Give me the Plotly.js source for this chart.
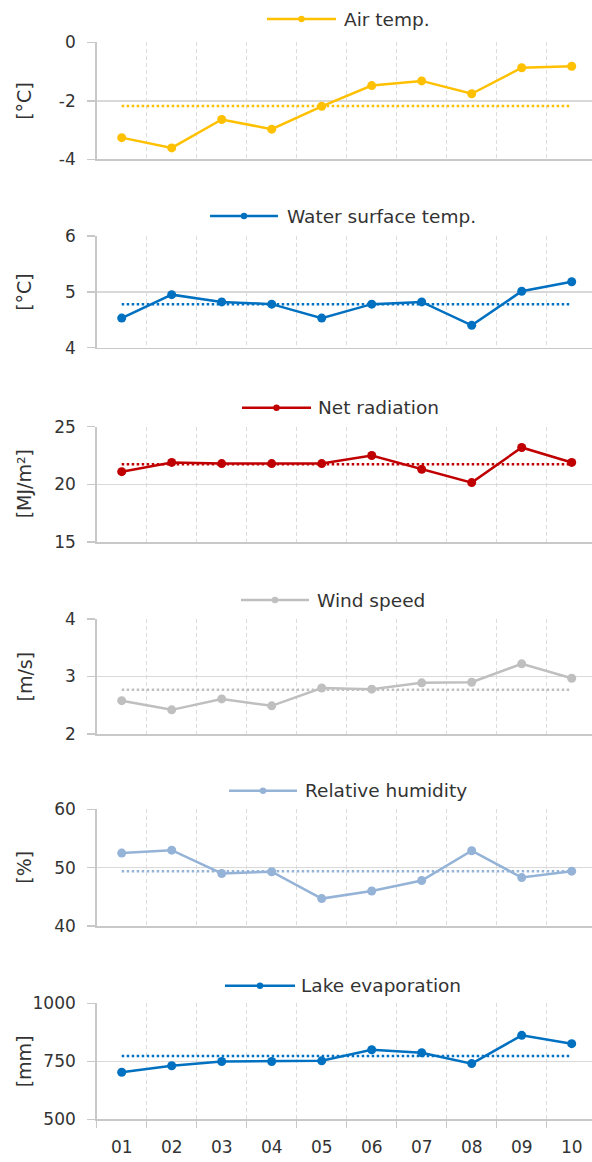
<!DOCTYPE html>
<html>
<head>
<meta charset="utf-8">
<script src="https://cdn.plot.ly/plotly-3.0.1.min.js"></script>
<style>
  html, body { margin: 0; padding: 0; background: #ffffff; }
  #chart { width: 592px; height: 1162px; }
</style>
</head>
<body>
<div id="chart"></div>
<script>
// Hydro-meteorological summary, periods 01–10
const periods = ["01", "02", "03", "04", "05", "06", "07", "08", "09", "10"];

const airTemp   = [-3.26, -3.61, -2.64, -2.97, -2.19, -1.48, -1.32, -1.76, -0.87, -0.82];
const waterTemp = [4.53, 4.95, 4.82, 4.78, 4.53, 4.78, 4.82, 4.40, 5.01, 5.18];
const netRad    = [21.1, 21.9, 21.8, 21.8, 21.8, 22.5, 21.3, 20.15, 23.2, 21.9];
const windSpeed = [2.58, 2.42, 2.61, 2.49, 2.80, 2.78, 2.89, 2.90, 3.22, 2.97];
const relHum    = [52.5, 53.0, 49.0, 49.3, 44.7, 46.0, 47.8, 52.9, 48.3, 49.4];
const lakeEvap  = [703, 731, 749, 749, 752, 800, 787, 740, 862, 826];

// Long-term averages (dotted reference lines)
const meanAirTemp   = -2.18;
const meanWaterTemp = 4.78;
const meanNetRad    = 21.75;
const meanWindSpeed = 2.77;
const meanRelHum    = 49.4;
const meanLakeEvap  = 773;

// Y tick values and labels per panel (plain hyphen for negatives)
const airTicks   = [-4, -2, 0];       const airTickText   = ["-4", "-2", "0"];
const waterTicks = [4, 5, 6];         const waterTickText = ["4", "5", "6"];
const radTicks   = [15, 20, 25];      const radTickText   = ["15", "20", "25"];
const windTicks  = [2, 3, 4];         const windTickText  = ["2", "3", "4"];
const humTicks   = [40, 50, 60];      const humTickText   = ["40", "50", "60"];
const evapTicks  = [500, 750, 1000];  const evapTickText  = ["500", "750", "1000"];

const seriesNames = ["Air temp.", "Water surface temp.", "Net radiation", "Wind speed", "Relative humidity", "Lake evaporation"];
const unitLabels  = ["[°C]", "[°C]", "[MJ/m²]", "[m/s]", "[%]", "[mm]"];

const W = 592, H = 1162;
const FONT = "DejaVu Sans, sans-serif";
const TEXT = "#333333";

const panels = [
  { y: airTemp,   mean: meanAirTemp,   color: "#FFC000", tv: airTicks,   tt: airTickText,   top: 42.3,  bot: 159.3,  leg: [267, 336, 342, 19] },
  { y: waterTemp, mean: meanWaterTemp, color: "#0070C0", tv: waterTicks, tt: waterTickText, top: 236,   bot: 347.7,  leg: [210, 278, 285, 216] },
  { y: netRad,    mean: meanNetRad,    color: "#C00000", tv: radTicks,   tt: radTickText,   top: 426.7, bot: 542,    leg: [242, 311, 316, 407.7] },
  { y: windSpeed, mean: meanWindSpeed, color: "#BFBFBF", tv: windTicks,  tt: windTickText,  top: 619,   bot: 734,    leg: [241, 309, 315, 600] },
  { y: relHum,    mean: meanRelHum,    color: "#95B3D7", tv: humTicks,   tt: humTickText,   top: 809.3, bot: 926,    leg: [229, 297, 303, 790.7] },
  { y: lakeEvap,  mean: meanLakeEvap,  color: "#0070C0", tv: evapTicks,  tt: evapTickText,  top: 1003.3, bot: 1119.3, leg: [225, 295, 299, 985.7] }
];

const px = v => v / W;
const py = v => 1 - v / H;

const plotLeft = 96.7;
const catWidth = 50;
const xRange = [-0.5, -0.5 + (W - plotLeft) / catWidth];

const traces = [];
const shapes = [];
const annotations = [];
const layout = {
  width: W, height: H,
  margin: { l: 0, r: 0, t: 0, b: 0 },
  paper_bgcolor: "#ffffff",
  plot_bgcolor: "#ffffff",
  showlegend: false,
  font: { family: FONT, size: 16, color: TEXT }
};

panels.forEach((p, i) => {
  const n = i + 1;
  const xa = "x" + (i === 0 ? "" : n);
  const ya = "y" + (i === 0 ? "" : n);
  const last = i === panels.length - 1;

  // dotted average line
  traces.push({
    type: "scatter", mode: "lines",
    x: periods, y: periods.map(() => p.mean),
    xaxis: xa, yaxis: ya,
    line: { color: p.color, width: 2.5, dash: "2.5px,2.5px" },
    hoverinfo: "skip"
  });
  // series
  traces.push({
    type: "scatter", mode: "lines+markers",
    name: seriesNames[i],
    x: periods, y: p.y,
    xaxis: xa, yaxis: ya,
    line: { color: p.color, width: 2.5 },
    marker: { color: p.color, size: 9 }
  });

  layout["xaxis" + (i === 0 ? "" : n)] = {
    domain: [px(plotLeft), 1],
    anchor: ya,
    type: "category",
    categoryarray: periods,
    range: xRange,
    tickson: "boundaries",
    showgrid: true,
    gridcolor: "#DCDCDC",
    gridwidth: 1,
    griddash: "4px,3px",
    showline: true,
    linecolor: "#C8C8C8",
    linewidth: 1.5,
    zeroline: false,
    ticks: last ? "outside" : "",
    ticklen: 7,
    tickcolor: "#C8C8C8",
    tickwidth: 1.5,
    showticklabels: last,
    ticklabelstandoff: 12,
    tickfont: { family: FONT, size: 17, color: TEXT },
    fixedrange: true
  };
  layout["yaxis" + (i === 0 ? "" : n)] = {
    domain: [py(p.bot), py(p.top)],
    anchor: xa,
    range: [p.tv[0], p.tv[p.tv.length - 1]],
    tickmode: "array",
    tickvals: p.tv,
    ticktext: p.tt,
    showgrid: true,
    gridcolor: "#D9D9D9",
    gridwidth: 1.5,
    showline: true,
    linecolor: "#C8C8C8",
    linewidth: 1.5,
    zeroline: false,
    ticks: "outside",
    ticklen: 8,
    tickcolor: "#C8C8C8",
    tickwidth: 1.5,
    ticklabelstandoff: 8,
    tickfont: { family: FONT, size: 17, color: TEXT },
    fixedrange: true
  };

  // unit label
  annotations.push({
    xref: "paper", yref: "paper",
    x: px(24), y: py((p.top + p.bot) / 2),
    text: unitLabels[i], textangle: -90, showarrow: false,
    font: { family: FONT, size: 19, color: TEXT },
    xanchor: "center", yanchor: "middle"
  });

  // legend key
  const [l0, l1, tx, ly] = p.leg;
  shapes.push({
    type: "line", xref: "paper", yref: "paper",
    x0: px(l0), x1: px(l1), y0: py(ly), y1: py(ly),
    line: { color: p.color, width: 2.5 }
  });
  const mx = (l0 + l1) / 2, r = 3.2;
  shapes.push({
    type: "circle", xref: "paper", yref: "paper",
    x0: px(mx - r), x1: px(mx + r), y0: py(ly + r), y1: py(ly - r),
    fillcolor: p.color, line: { color: p.color, width: 0 }
  });
  annotations.push({
    xref: "paper", yref: "paper",
    x: px(tx), y: py(ly),
    text: seriesNames[i], showarrow: false,
    font: { family: FONT, size: 18.5, color: TEXT },
    xanchor: "left", yanchor: "middle"
  });
});

layout.shapes = shapes;
layout.annotations = annotations;

Plotly.newPlot("chart", traces, layout, { displayModeBar: false, staticPlot: true });
</script>
</body>
</html>
